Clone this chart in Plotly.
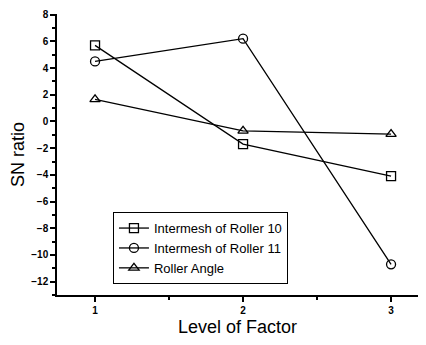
import plotly.graph_objects as go

levels = [1, 2, 3]
roller10 = [5.7, -1.7, -4.1]
roller11 = [4.5, 6.2, -10.7]
roller_angle = [1.65, -0.7, -0.95]
names = ["Intermesh of Roller 10", "Intermesh of Roller 11", "Roller Angle"]
symbols = ["square-open", "circle-open", "triangle-up-open"]

fig = go.Figure()
for name, vals, sym in zip(names, [roller10, roller11, roller_angle], symbols):
    fig.add_trace(go.Scatter(
        x=levels, y=vals, name=name, mode="lines+markers",
        line=dict(color="black", width=1.3),
        marker=dict(symbol=sym, size=9, color="black", line=dict(color="black", width=1.3)),
    ))

fig.update_layout(
    width=410, height=329,
    margin=dict(l=49, r=0, t=6, b=42),
    paper_bgcolor="white", plot_bgcolor="white",
    font=dict(family="Liberation Sans, Arial", color="black"),
    showlegend=True,
    legend=dict(x=0.155, y=0.295, xanchor="left", yanchor="top",
                bordercolor="black", borderwidth=1, bgcolor="white",
                font=dict(size=13), tracegroupgap=0, itemwidth=30),
    xaxis=dict(range=[0.743, 3.182], tickvals=[1, 2, 3], showline=True, linecolor="black", linewidth=1.5,
               automargin=False, ticklabeloverflow="allow",
               ticks="outside", ticklen=5, tickwidth=1.5, tickcolor="black", showgrid=False, zeroline=False,
               tickfont=dict(size=10, family="Liberation Sans, Arial", weight="bold"),
               minor=dict(tickvals=[1.5, 2.5], ticks="outside", ticklen=3, tickcolor="black"),
               title=dict(text="Level of Factor", font=dict(size=18), standoff=10)),
    yaxis=dict(range=[-13, 8.05], tickvals=list(range(-12, 9, 2)), showline=True, linecolor="black", linewidth=1.5,
               automargin=False, ticklabeloverflow="allow",
               ticks="outside", ticklen=5, tickwidth=1.5, tickcolor="black", showgrid=False, zeroline=False,
               tickfont=dict(size=10, family="Liberation Sans, Arial", weight="bold"),
               minor=dict(tickvals=list(range(-13, 8, 2)), ticks="outside", ticklen=3, tickcolor="black"),
               title=dict(text="SN ratio", font=dict(size=18), standoff=6)),
)

fig.write_html("out.html")
